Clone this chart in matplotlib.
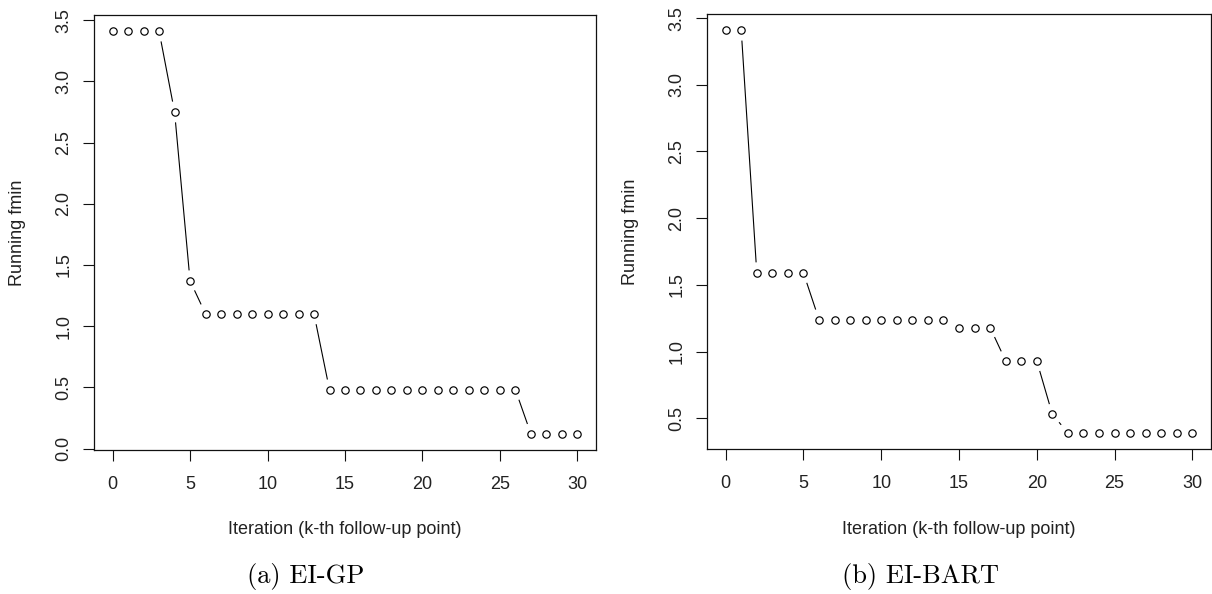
import numpy as np
from matplotlib import pyplot as plt

# running minimum of f after k follow-up points
iteration = list(range(31))
gp_fmin = [3.41, 3.41, 3.41, 3.41, 2.75, 1.37,
           1.10, 1.10, 1.10, 1.10, 1.10, 1.10, 1.10, 1.10,
           0.48, 0.48, 0.48, 0.48, 0.48, 0.48, 0.48, 0.48, 0.48, 0.48, 0.48, 0.48, 0.48,
           0.12, 0.12, 0.12, 0.12]
bart_fmin = [3.41, 3.41, 1.59, 1.59, 1.59, 1.59,
             1.24, 1.24, 1.24, 1.24, 1.24, 1.24, 1.24, 1.24, 1.24,
             1.18, 1.18, 1.18, 0.93, 0.93, 0.93, 0.53,
             0.39, 0.39, 0.39, 0.39, 0.39, 0.39, 0.39, 0.39, 0.39]

xticks = [0, 5, 10, 15, 20, 25, 30]
gp_yticks = [0.0, 0.5, 1.0, 1.5, 2.0, 2.5, 3.0, 3.5]
bart_yticks = [0.5, 1.0, 1.5, 2.0, 2.5, 3.0, 3.5]
captions = ["(a) EI-GP", "(b) EI-BART"]

W, H = 1212, 594
TXT = '#222222'
plt.rcParams['font.family'] = ['Liberation Sans', 'DejaVu Sans']


def rRange(v):
    # R default axis range: data range padded by 4% on each side
    lo, hi = min(v), max(v)
    r = hi - lo
    return lo - 0.04 * r, hi + 0.04 * r


def drawTypeB(ax, x, y, gap=10.5):
    # R type="b": points joined by lines that stop short of each point
    pts = ax.transData.transform(np.column_stack([x, y]))
    inv = ax.transData.inverted()
    for i in range(len(x) - 1):
        d = pts[i + 1] - pts[i]
        L = np.hypot(d[0], d[1])
        if L <= 2 * gap:
            continue
        u = d / L
        seg = inv.transform([pts[i] + u * gap, pts[i + 1] - u * gap])
        ax.plot(seg[:, 0], seg[:, 1], color='black', lw=0.8,
                solid_capstyle='butt')
    ax.plot(x, y, linestyle='none', marker='o', markersize=5.3,
            markerfacecolor='none', markeredgecolor='black', mew=0.85)


def makePanel(fig, rect, yvals, yticks, caption, capx):
    ax = fig.add_axes(rect)
    ax.set_xlim(rRange(iteration))
    ax.set_ylim(rRange(yvals))
    drawTypeB(ax, iteration, yvals)
    ax.set_xticks(xticks)
    ax.set_xticklabels([str(t) for t in xticks])
    ax.set_yticks(yticks)
    ax.set_yticklabels(['%.1f' % t for t in yticks])
    for s in ax.spines.values():
        s.set_linewidth(0.9)
        s.set_color('#111111')
    ax.tick_params(axis='both', direction='out', length=8, width=0.8,
                   labelsize=13, labelcolor=TXT, color='#111111')
    ax.tick_params(axis='x', pad=10.5)
    ax.tick_params(axis='y', pad=7.5, labelrotation=90)
    for lab in ax.get_yticklabels():
        lab.set_va('center')
    ax.set_xlabel("Iteration (k-th follow-up point)", fontsize=13, color=TXT)
    ax.xaxis.label.set_va('center')
    ax.xaxis.set_label_coords(0.5, -80 / 435)
    ax.set_ylabel("Running fmin", fontsize=13, color=TXT)
    ax.yaxis.label.set_va('center')
    ax.yaxis.set_label_coords(-76 / 502, 0.5)
    fig.text(capx / W, 1 - 577 / H, caption, ha='center', va='center',
             fontsize=19, color='black', family=['cmr10', 'DejaVu Serif'])
    return ax


fig = plt.figure(figsize=(W / 100, H / 100), dpi=100)

makePanel(fig, [94 / W, 1 - 450 / H, 502 / W, 435 / H],
          gp_fmin, gp_yticks, captions[0], 306)
makePanel(fig, [707 / W, 1 - 449 / H, 504 / W, 435 / H],
          bart_fmin, bart_yticks, captions[1], 920)

fig.savefig("out.png", dpi=100)
